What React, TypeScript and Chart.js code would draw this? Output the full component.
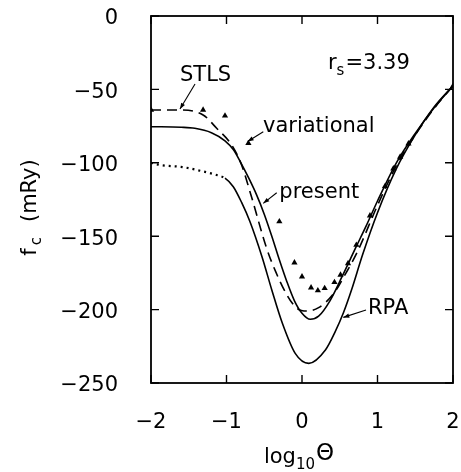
import React, { useEffect, useRef } from "react";
import { Chart, registerables } from "chart.js";

Chart.register(...registerables);

const FONT = '"DejaVu Sans", sans-serif';

// ---- data ----
const presentX = [-2, -1.6, -1.42, -1.2, -1.02, -0.91, -0.82, -0.7, -0.6, -0.5, -0.4, -0.3, -0.2, -0.1, 0.0, 0.11, 0.22, 0.37, 0.53, 0.71, 0.85, 1.0, 1.25, 1.5, 1.75, 2.0];
const presentY = [-75.4, -75.8, -76.5, -79.5, -85, -91, -99, -111, -122, -135, -150, -166, -181, -194, -202.5, -206.6, -204.5, -194, -177.6, -158, -143, -126, -100, -80, -62.5, -47.5];

const stlsX = [-2, -1.64, -1.31, -1.13, -0.93, -0.8, -0.67, -0.47, -0.35, -0.2, -0.07, 0.07, 0.22, 0.42, 0.58, 0.73, 1.0, 1.25, 1.5, 1.75, 2.0];
const stlsY = [-64, -64, -67.4, -76.5, -88, -101.5, -123, -158, -174, -190, -199, -201, -198.7, -189, -175.3, -161, -129, -102, -81, -63, -47.5];

const rpaX = [-2, -1.88, -1.57, -1.35, -1.13, -1.02, -0.91, -0.8, -0.69, -0.53, -0.4, -0.26, -0.09, 0.09, 0.31, 0.44, 0.55, 0.66, 0.8, 1.0, 1.25, 1.5, 1.75, 2.0];
const rpaY = [-100, -101.5, -103, -105.4, -108.3, -110.5, -116.3, -127, -140, -164, -186.6, -209.3, -229.8, -236.6, -227.5, -215, -202, -186, -163, -134, -104, -81, -62, -47.5];
const rpaDottedEnd = -1.02;

const variationalX = [-2, -1.31, -1.02, -0.71, -0.3, -0.1, 0.0, 0.12, 0.21, 0.3, 0.43, 0.51, 0.61, 0.72, 0.9, 1.1, 1.21, 1.3, 1.41, 2.0];
const variationalY = [-64, -64, -68, -86.7, -140, -168, -177.6, -185, -187, -185.5, -181.4, -176.4, -168.5, -156, -136, -116, -104, -96, -87, -47.7];

const xTicks = [-2, -1, 0, 1, 2];
const yTicks = [0, -50, -100, -150, -200, -250];

// ---- annotations (in data coordinates) ----
const labelText = ["STLS", "variational", "present", "RPA"];
const labelX = [-1.616, -0.517, -0.3, 0.874];
const labelY = [-44.3, -79, -124, -203];
const arrowFromX = [-1.417, -0.513, -0.335, 0.848];
const arrowFromY = [-46.3, -78.8, -120.4, -200.3];
const arrowToX = [-1.616, -0.72, -0.513, 0.547];
const arrowToY = [-63.4, -85.5, -127.6, -205.3];
const rsLabelX = 0.344;
const rsLabelY = -36.1;

const pts = (xs: number[], ys: number[]) => xs.map((x, i) => ({ x, y: ys[i] }));
const minus = (v: number) => (v < 0 ? "\u2212" + Math.abs(v) : String(v));

const decorPlugin = {
  id: "decor",
  afterDraw(chart: any) {
    const ctx: CanvasRenderingContext2D = chart.ctx;
    const { left, right, top, bottom } = chart.chartArea;
    const xs = chart.scales.x;
    const ys = chart.scales.y;
    ctx.save();
    ctx.strokeStyle = "#000";
    ctx.fillStyle = "#000";
    // frame
    ctx.lineWidth = 1.8;
    ctx.strokeRect(left, top, right - left, bottom - top);
    // inside ticks
    ctx.lineWidth = 1.4;
    const tl = 8;
    ctx.beginPath();
    xs.ticks.forEach((t: any) => {
      const px = xs.getPixelForValue(t.value);
      ctx.moveTo(px, bottom);
      ctx.lineTo(px, bottom - tl);
      ctx.moveTo(px, top);
      ctx.lineTo(px, top + tl);
    });
    ys.ticks.forEach((t: any) => {
      const py = ys.getPixelForValue(t.value);
      ctx.moveTo(left, py);
      ctx.lineTo(left + tl, py);
      ctx.moveTo(right, py);
      ctx.lineTo(right - tl, py);
    });
    ctx.stroke();

    // labels with arrows
    ctx.font = `21px ${FONT}`;
    ctx.textAlign = "left";
    ctx.textBaseline = "alphabetic";
    labelText.forEach((txt, i) => {
      ctx.fillText(txt, xs.getPixelForValue(labelX[i]), ys.getPixelForValue(labelY[i]));
      const x0 = xs.getPixelForValue(arrowFromX[i]);
      const y0 = ys.getPixelForValue(arrowFromY[i]);
      const x1 = xs.getPixelForValue(arrowToX[i]);
      const y1 = ys.getPixelForValue(arrowToY[i]);
      ctx.lineWidth = 1.1;
      ctx.beginPath();
      ctx.moveTo(x0, y0);
      ctx.lineTo(x1, y1);
      ctx.stroke();
      const ang = Math.atan2(y1 - y0, x1 - x0);
      const L = 6, W = 2.2;
      ctx.beginPath();
      ctx.moveTo(x1, y1);
      ctx.lineTo(x1 - L * Math.cos(ang) + W * Math.sin(ang), y1 - L * Math.sin(ang) - W * Math.cos(ang));
      ctx.lineTo(x1 - L * Math.cos(ang) - W * Math.sin(ang), y1 - L * Math.sin(ang) + W * Math.cos(ang));
      ctx.closePath();
      ctx.fill();
    });

    // r_s = 3.39
    let rx = xs.getPixelForValue(rsLabelX);
    const ry = ys.getPixelForValue(rsLabelY);
    ctx.font = `21px ${FONT}`;
    ctx.fillText("r", rx, ry);
    rx += ctx.measureText("r").width;
    ctx.font = `15px ${FONT}`;
    ctx.fillText("s", rx, ry + 6);
    rx += ctx.measureText("s").width + 1;
    ctx.font = `21px ${FONT}`;
    ctx.fillText("=3.39", rx, ry);

    // x axis title: log10 Theta
    const cx = (left + right) / 2;
    const by = 463;
    ctx.font = `21px ${FONT}`;
    const wLog = ctx.measureText("log").width;
    ctx.font = `23px ${FONT}`;
    const wTh = ctx.measureText("\u0398").width;
    ctx.font = `15px ${FONT}`;
    const wSub = ctx.measureText("10").width;
    let sx = cx - (wLog + wSub + wTh + 1) / 2 - 3;
    ctx.font = `21px ${FONT}`;
    ctx.fillText("log", sx, by);
    sx += wLog;
    ctx.font = `15px ${FONT}`;
    ctx.fillText("10", sx, by + 6);
    sx += wSub + 1;
    ctx.font = `23px ${FONT}`;
    ctx.fillText("\u0398", sx, by - 3);

    // y axis title: f_c (mRy)
    ctx.translate(36, (top + bottom) / 2 + 8);
    ctx.rotate(-Math.PI / 2);
    ctx.font = `21px ${FONT}`;
    const wF = ctx.measureText("f").width;
    const wRest = ctx.measureText("(mRy)").width;
    ctx.font = `15px ${FONT}`;
    const wC = ctx.measureText("c").width;
    const gap = 15;
    const fgap = 3;
    let tx = -(wF + fgap + wC + gap + wRest) / 2;
    ctx.font = `21px ${FONT}`;
    ctx.fillText("f", tx, 0);
    tx += wF + fgap;
    ctx.font = `15px ${FONT}`;
    ctx.fillText("c", tx, 5);
    tx += wC + gap;
    ctx.font = `21px ${FONT}`;
    ctx.fillText("(mRy)", tx, 0);
    ctx.restore();
  },
};

export default function App() {
  const ref = useRef<HTMLCanvasElement | null>(null);
  useEffect(() => {
    if (!ref.current) return;
    const lineBase = {
      borderColor: "#000",
      backgroundColor: "#000",
      pointRadius: 0,
      fill: false,
      cubicInterpolationMode: "monotone" as const,
      showLine: true,
    };
    const chart = new Chart(ref.current, {
      type: "line",
      data: {
        datasets: [
          { ...lineBase, label: "present", data: pts(presentX, presentY), borderWidth: 1.6 },
          { ...lineBase, label: "STLS", data: pts(stlsX, stlsY), borderWidth: 1.6, borderDash: [10, 6] },
          {
            ...lineBase,
            label: "RPA",
            data: pts(rpaX, rpaY),
            borderWidth: 1.6,
            segment: {
              borderDash: (c: any) => (c.p1.parsed.x <= rpaDottedEnd ? [2, 4] : undefined),
              borderWidth: (c: any) => (c.p1.parsed.x <= rpaDottedEnd ? 2.2 : 1.6),
            },
          },
          {
            type: "scatter",
            label: "variational",
            data: pts(variationalX, variationalY),
            showLine: false,
            pointStyle: "triangle",
            pointRadius: 3.6,
            pointBackgroundColor: "#000",
            pointBorderColor: "#000",
            pointBorderWidth: 0,
          } as any,
        ],
      },
      options: {
        responsive: false,
        maintainAspectRatio: false,
        animation: false,
        devicePixelRatio: 1,
        layout: { padding: { top: 16, right: 8, left: 0, bottom: 0 } },
        plugins: { legend: { display: false }, tooltip: { enabled: false } },
        scales: {
          x: {
            type: "linear",
            min: -2,
            max: 2,
            afterBuildTicks: (s: any) => {
              s.ticks = xTicks.map((v) => ({ value: v }));
            },
            afterFit: (s: any) => {
              s.height = 89;
              s.paddingLeft = 0;
              s.paddingRight = 0;
            },
            grid: { display: false, drawTicks: false },
            border: { display: false },
            ticks: {
              padding: 27,
              color: "#000",
              font: { family: FONT, size: 21 },
              callback: (v: any) => minus(Number(v)),
            },
          },
          y: {
            type: "linear",
            min: -250,
            max: 0,
            afterBuildTicks: (s: any) => {
              s.ticks = yTicks.map((v) => ({ value: v }));
            },
            afterFit: (s: any) => {
              s.width = 151;
              s.paddingTop = 0;
              s.paddingBottom = 0;
            },
            grid: { display: false, drawTicks: false },
            border: { display: false },
            ticks: {
              padding: 33,
              labelOffset: 3,
              color: "#000",
              font: { family: FONT, size: 21 },
              callback: (v: any) => minus(Number(v)),
            },
          },
        },
      },
      plugins: [decorPlugin],
    } as any);
    return () => chart.destroy();
  }, []);
  return (
    <canvas
      ref={ref}
      width={461}
      height={472}
      style={{ position: "absolute", left: 0, top: 0, width: 461, height: 472, background: "#fff" }}
    />
  );
}
